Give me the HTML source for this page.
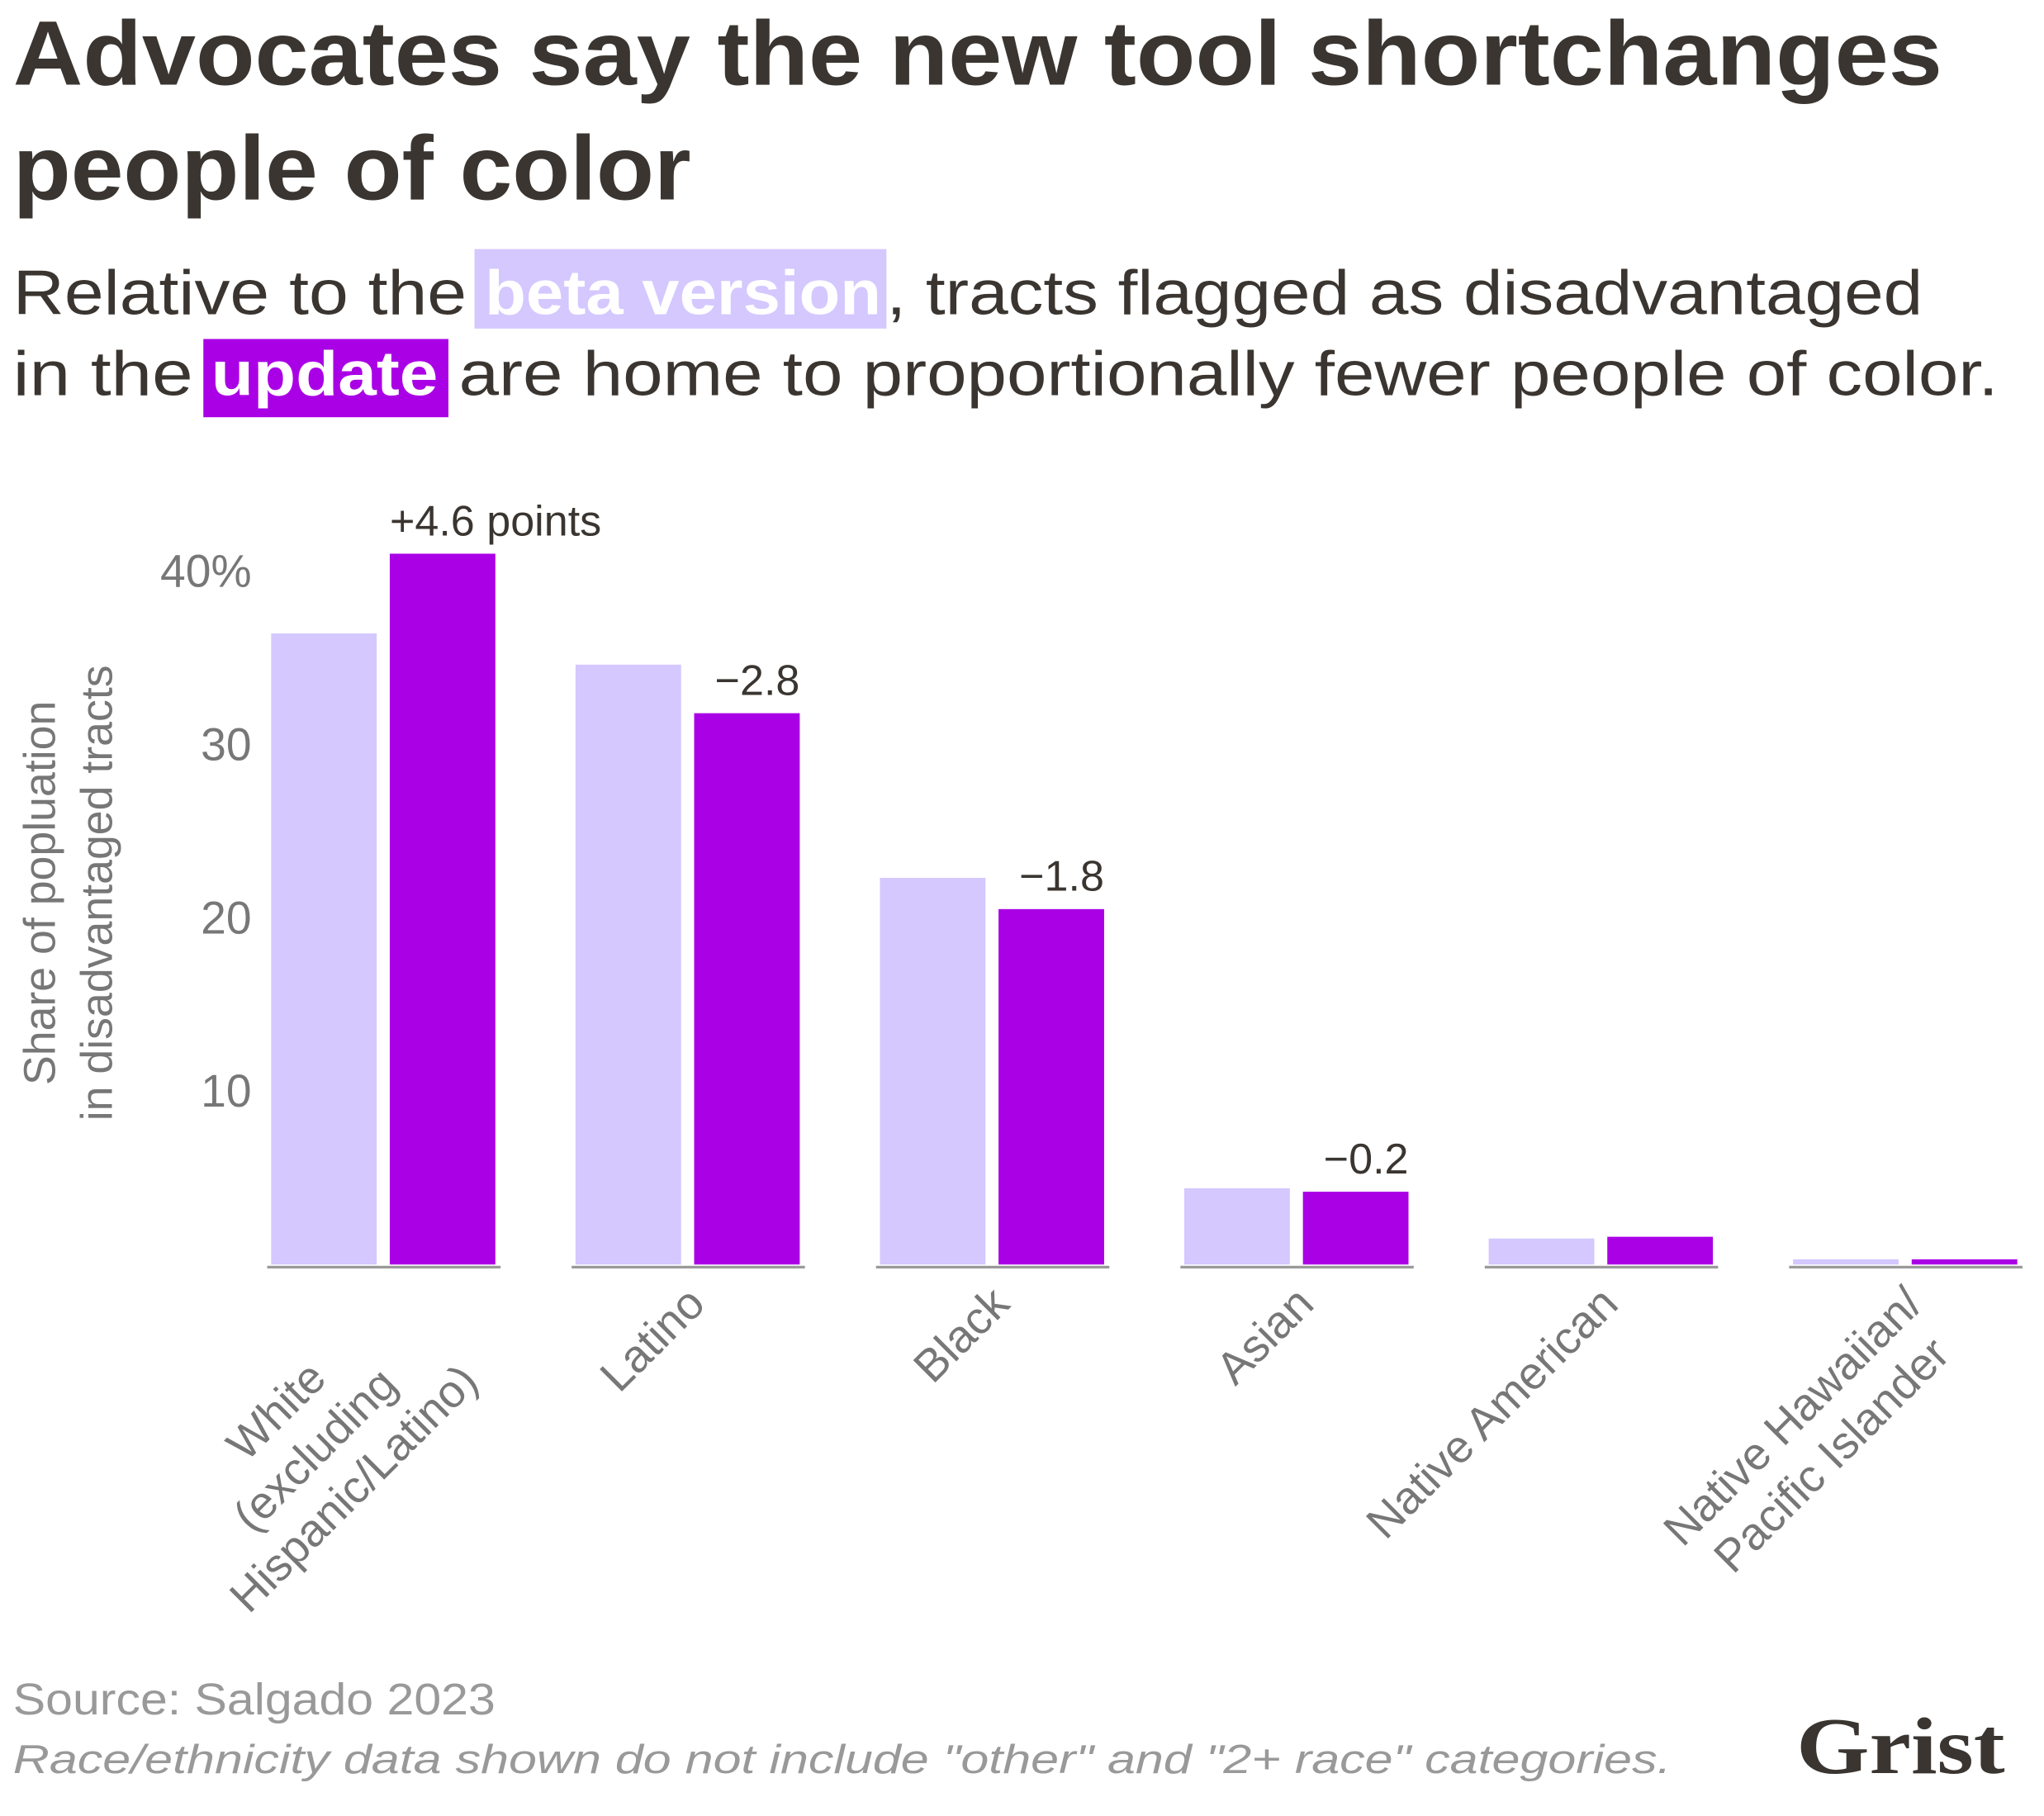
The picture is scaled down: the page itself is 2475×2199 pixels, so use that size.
<!DOCTYPE html>
<html><head><meta charset="utf-8"><style>
html,body{margin:0;padding:0;background:#fff;}
svg{display:block;font-family:"Liberation Sans",sans-serif;}
</style></head><body>
<svg id="chart" width="2475" height="2199" viewBox="0 0 1568 1393" xmlns="http://www.w3.org/2000/svg">
<rect width="1568" height="1393" fill="#fff"/>
<g fill="#3a3530" font-weight="bold" font-size="70">
<text x="10" y="65" textLength="1480" lengthAdjust="spacingAndGlyphs">Advocates say the new tool shortchanges</text>
<text x="10" y="153" textLength="520" lengthAdjust="spacingAndGlyphs">people of color</text>
</g>
<g font-size="48" fill="#3a3530">
<rect x="364" y="191" width="316" height="61" fill="#d4c8ff"/>
<rect x="156" y="260" width="188" height="60" fill="#aa00e6"/>
<text x="10" y="241" textLength="348" lengthAdjust="spacingAndGlyphs">Relative to the</text>
<text x="372" y="241" textLength="304" lengthAdjust="spacingAndGlyphs" fill="#fff" font-weight="bold">beta version</text>
<text x="680" y="241" textLength="795" lengthAdjust="spacingAndGlyphs">, tracts flagged as disadvantaged</text>
<text x="10" y="303" textLength="138" lengthAdjust="spacingAndGlyphs">in the</text>
<text x="162" y="303" textLength="174" lengthAdjust="spacingAndGlyphs" fill="#fff" font-weight="bold">update</text>
<text x="352" y="303" textLength="1181" lengthAdjust="spacingAndGlyphs">are home to proportionally fewer people of color.</text>
</g>
<g fill="#777" font-size="34" text-anchor="middle">
<text transform="translate(42,685) rotate(-90)">Share of popluation</text>
<text transform="translate(86,685) rotate(-90)">in disadvantaged tracts</text>
</g>
<g id="plot"></g>
<g>
<text x="10" y="1315" font-size="34" fill="#999" textLength="370" lengthAdjust="spacingAndGlyphs">Source: Salgado 2023</text>
<text x="10" y="1360" font-size="31" font-style="italic" fill="#999" textLength="1272" lengthAdjust="spacingAndGlyphs">Race/ethnicity data shown do not include "other" and "2+ race" categories.</text>
<text x="1378" y="1360" font-family="Liberation Serif, serif" font-weight="bold" font-size="62" fill="#3a3530" textLength="160" lengthAdjust="spacingAndGlyphs">Grist</text>
</g>
</svg>
<script>
const categories = [["White","(excluding","Hispanic/Latino)"],["Latino"],["Black"],["Asian"],["Native American"],["Native Hawaiian/","Pacific Islander"]];
const betaValues = [36.4, 34.6, 22.3, 4.4, 1.5, 0.3];
const updateValues = [41.0, 31.8, 20.5, 4.2, 1.6, 0.3];
const changeLabels = ["+4.6 points", "−2.8", "−1.8", "−0.2", "", ""];
const yTicks = [10, 20, 30, 40];
const yTickLabels = ["10", "20", "30", "40%"];

const NS = "http://www.w3.org/2000/svg";
const plot = document.getElementById('plot');
const y0 = 970, pxPerUnit = 13.3, x0 = 208, step = 233.5, bw = 81, gap = 10;
const yScale = v => y0 - v * pxPerUnit;
const xGroup = i => x0 + i * step;
function mk(tag, attrs, parent) {
  const e = document.createElementNS(NS, tag);
  for (const k in attrs) e.setAttribute(k, attrs[k]);
  (parent || plot).appendChild(e);
  return e;
}
yTicks.forEach((t, i) => {
  const e = mk('text', {x: 193, y: yScale(t) + 12, 'text-anchor': 'end', 'font-size': 35, fill: '#777'});
  
  
  e.textContent = yTickLabels[i];
});
categories.forEach((cat, i) => {
  const gx = xGroup(i);
  const b = mk('rect', {x: gx, y: yScale(betaValues[i]), width: bw, height: betaValues[i] * pxPerUnit, fill: '#d4c8ff'});
  
  
  const u = mk('rect', {x: gx + bw + gap, y: yScale(updateValues[i]), width: bw, height: updateValues[i] * pxPerUnit, fill: '#aa00e6'});
  
  
  const ax = mk('line', {x1: gx - 3, x2: gx + 2 * bw + gap + 4, y1: y0 + 2, y2: y0 + 2, stroke: '#999', 'stroke-width': 2});
  
  
  if (changeLabels[i]) {
    const first = i === 0;
    const t = mk('text', {x: first ? gx + bw + gap : gx + 2 * bw + gap, y: yScale(updateValues[i]) - 14, 'text-anchor': first ? 'start' : 'end', 'font-size': 33, fill: '#3a3530'});
    
    
    t.textContent = changeLabels[i];
  }
  const cx = gx + bw + gap / 2 + 15;
  const g = mk('g', {transform: `translate(${cx},1002) rotate(-45)`, 'font-size': 35, fill: '#777'});
  
  
  const lines = cat.map((s, j) => {
    const t = mk('text', {x: 0, y: j * 42, 'text-anchor': 'end'}, g);
    t.textContent = s;
    return t;
  });
  const ws = lines.map(t => t.getComputedTextLength());
  const mw = Math.max(...ws);
  lines.forEach((t, j) => t.setAttribute('x', -(mw - ws[j]) / 2));
});
</script>
</body></html>
